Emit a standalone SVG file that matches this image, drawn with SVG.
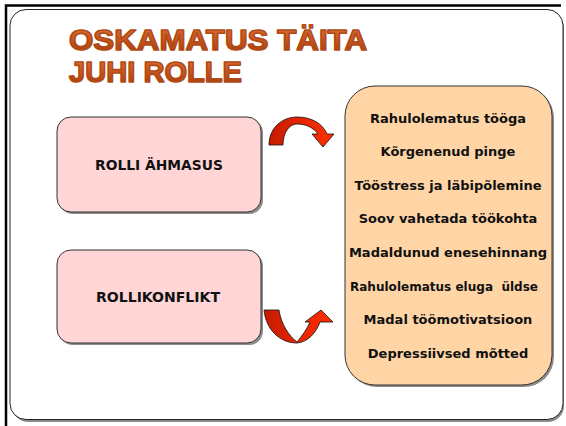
<svg xmlns="http://www.w3.org/2000/svg" width="566" height="426" viewBox="0 0 566 426">
<defs>
<linearGradient id="titleGrad" x1="0" y1="0" x2="0" y2="1">
<stop offset="0" stop-color="#e0763a"/>
<stop offset="0.5" stop-color="#c8561e"/>
<stop offset="1" stop-color="#9c3c0c"/>
</linearGradient>
<linearGradient id="arrowGrad" x1="0" y1="0" x2="1" y2="0">
<stop offset="0" stop-color="#c41c00"/>
<stop offset="0.5" stop-color="#e82400"/>
<stop offset="1" stop-color="#ff3000"/>
</linearGradient>
<style>
.frame{fill:none;stroke:#000;stroke-width:2.5}
.panel{fill:#fff;stroke:#222;stroke-width:1}
.shadow{fill:#8c8c8c}
.pink{fill:#ffd5d5;stroke:#333;stroke-width:1}
.peach{fill:#ffd5a6;stroke:#333;stroke-width:1}
.title{font-family:"Liberation Sans","DejaVu Sans",sans-serif;font-weight:bold;font-size:29px;fill:url(#titleGrad);stroke:#b04a16;stroke-width:1.6;stroke-linejoin:round}
.lbl{font-family:"DejaVu Sans","Liberation Sans",sans-serif;font-weight:bold;font-size:13.5px;fill:#111;text-anchor:middle}
.item{font-family:"DejaVu Sans","Liberation Sans",sans-serif;font-weight:bold;font-size:13px;fill:#111;text-anchor:middle}
.arrow{fill:url(#arrowGrad);stroke:#111;stroke-width:0.8;stroke-linejoin:miter}
</style>
</defs>
<rect width="566" height="426" fill="#fff"/>
<g id="background">
<rect class="shadow" x="12" y="12" width="552" height="410" rx="16"/>
<rect class="panel" x="10" y="9.5" width="553" height="410" rx="16"/>
<path class="frame" d="M6,426 V5.5 H561"/>
</g>
<g id="title">
<text class="title" x="69" y="49.5" textLength="298" lengthAdjust="spacingAndGlyphs">OSKAMATUS TÄITA</text>
<text class="title" x="69" y="81.5" textLength="173" lengthAdjust="spacingAndGlyphs">JUHI ROLLE</text>
</g>
<g id="node-rolli-ahmasus">
<rect class="shadow" x="59" y="119" width="204" height="95" rx="14"/>
<rect class="pink" x="57" y="117" width="204" height="95" rx="14"/>
<text class="lbl" x="159" y="170" textLength="128" lengthAdjust="spacingAndGlyphs">ROLLI ÄHMASUS</text>
</g>
<g id="node-rollikonflikt">
<rect class="shadow" x="59" y="252" width="204" height="93" rx="14"/>
<rect class="pink" x="57" y="250" width="204" height="93" rx="14"/>
<text class="lbl" x="158" y="302" textLength="124" lengthAdjust="spacingAndGlyphs">ROLLIKONFLIKT</text>
</g>
<g id="node-tagajarjed">
<rect class="shadow" x="347" y="88" width="207" height="299" rx="30"/>
<rect class="peach" x="345" y="86" width="207" height="299" rx="30"/>
<text class="item" x="448" y="123">Rahulolematus tööga</text>
<text class="item" x="448" y="156">Kõrgenenud pinge</text>
<text class="item" x="448" y="190">Tööstress ja läbipõlemine</text>
<text class="item" x="448" y="223">Soov vahetada töökohta</text>
<text class="item" x="448" y="257">Madaldunud enesehinnang</text>
<text class="item" x="444" y="291" xml:space="preserve" textLength="188" lengthAdjust="spacingAndGlyphs">Rahulolematus eluga  üldse</text>
<text class="item" x="448" y="324">Madal töömotivatsioon</text>
<text class="item" x="448" y="358">Depressiivsed mõtted</text>
</g>
<g id="connectors">
<path class="arrow" d="M269,145 C269,128 282,117 297,117 C312,117 323,124 327,134 L334,134 L323,147 L312,134 L318,134 C314,128 306,124 297,124 C289,124 283,133 283,145 Z"/>
<path class="arrow" d="M264,310 L279,310 C281,324 289,336 297,342 C302,336 307,329 310,322 L305,322 L321,310 L333,322 L320,322 C316,333 308,342 297,343 C280,343 266,330 264,310 Z"/>
</g>
</svg>
